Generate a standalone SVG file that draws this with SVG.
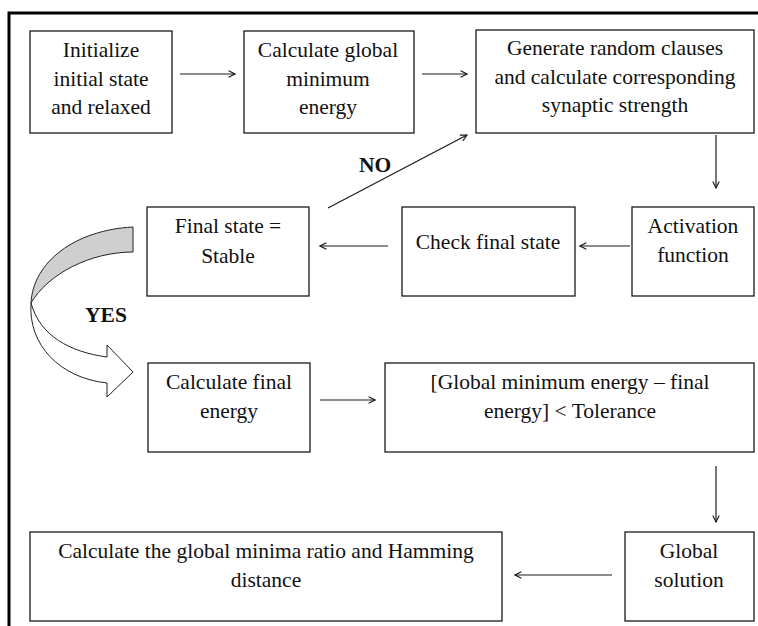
<svg xmlns="http://www.w3.org/2000/svg" width="758" height="626" viewBox="0 0 758 626">
<style>
.box{fill:#fff;stroke:#1a1a1a;stroke-width:1.3}
.t{font-family:"Liberation Serif","Times New Roman",serif;font-size:21.5px;fill:#111;text-anchor:middle}
.b{font-weight:bold}
.c{stroke:#1a1a1a;stroke-width:1.2;fill:none;marker-end:url(#ah)}
</style>
<defs>
<marker id="ah" viewBox="0 0 10 10" refX="9" refY="5" markerWidth="8" markerHeight="8" markerUnits="userSpaceOnUse" orient="auto">
<path d="M1,1 L9,5 L1,9" fill="none" stroke="#1a1a1a" stroke-width="1.4"/>
</marker>
</defs>
<rect width="758" height="626" fill="#fff"/>
<rect x="9" y="13" width="800" height="700" fill="none" stroke="#000" stroke-width="3"/>
<g id="n1"><rect class="box" x="30" y="31" width="142" height="102"/><text class="t" x="101" y="57">Initialize</text><text class="t" x="101" y="86">initial state</text><text class="t" x="101" y="114">and relaxed</text></g>
<g id="n2"><rect class="box" x="244" y="31" width="170" height="102"/><text class="t" x="328" y="57">Calculate global</text><text class="t" x="328" y="86">minimum</text><text class="t" x="328" y="114">energy</text></g>
<g id="n3"><rect class="box" x="476" y="30" width="278" height="103"/><text class="t" x="615" y="55">Generate random clauses</text><text class="t" x="615" y="84">and calculate corresponding</text><text class="t" x="615" y="112">synaptic strength</text></g>
<g id="n4"><rect class="box" x="147" y="207" width="162" height="89"/><text class="t" x="228" y="233">Final state =</text><text class="t" x="228" y="263">Stable</text></g>
<g id="n5"><rect class="box" x="402" y="207" width="173" height="89"/><text class="t" x="488" y="249">Check final state</text></g>
<g id="n6"><rect class="box" x="632" y="207" width="122" height="89"/><text class="t" x="693" y="233">Activation</text><text class="t" x="693" y="262">function</text></g>
<g id="n7"><rect class="box" x="148" y="363" width="162" height="89"/><text class="t" x="229" y="389">Calculate final</text><text class="t" x="229" y="418">energy</text></g>
<g id="n8"><rect class="box" x="385" y="363" width="369" height="89"/><text class="t" x="570" y="389">[Global minimum energy – final</text><text class="t" x="570" y="418">energy] &lt; Tolerance</text></g>
<g id="n9"><rect class="box" x="625" y="532" width="129" height="89"/><text class="t" x="689" y="558">Global</text><text class="t" x="689" y="587">solution</text></g>
<g id="n10"><rect class="box" x="30" y="532" width="472" height="89"/><text class="t" x="266" y="558">Calculate the global minima ratio and Hamming</text><text class="t" x="266" y="587">distance</text></g>
<g id="connectors">
<path class="c" d="M180,74 H235"/>
<path class="c" d="M422,74 H467"/>
<path class="c" d="M716,135 V188"/>
<path class="c" d="M630,246 H580"/>
<path class="c" d="M388,246 H320"/>
<path class="c" d="M328,208 L467,135"/>
<path class="c" d="M320,400 H375"/>
<path class="c" d="M716,466 V522"/>
<path class="c" d="M612,575 H515"/>
<path d="M133,227 C75,230 33,262 31,303 C48,274 90,252 133,252 Z" fill="#cfcfcf" stroke="#222" stroke-width="1"/>
<path d="M31,303 C40,336 70,352 107,357 L107,345 L133,372 L107,397 L107,383 C60,378 28,345 31,303 Z" fill="#fff" stroke="#222" stroke-width="1"/>
<text class="t b" x="375" y="172">NO</text>
<text class="t b" x="106" y="322">YES</text>
</g>
</svg>
